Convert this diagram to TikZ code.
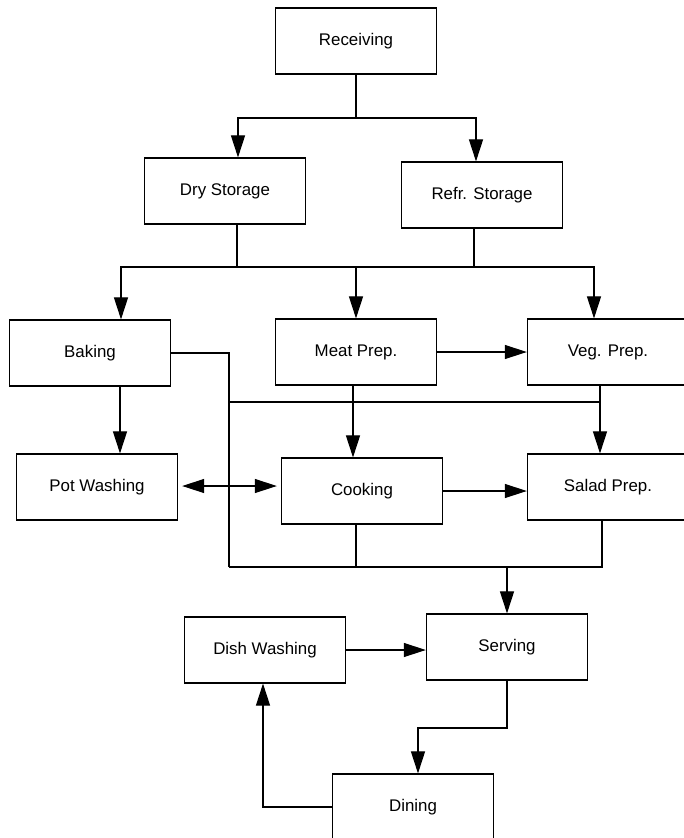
\documentclass[tikz,border=0pt]{standalone}
\usepackage{fontspec}
\setmainfont{Liberation Sans}
\usetikzlibrary{arrows.meta}

\begin{document}
\begin{tikzpicture}[x=0.025cm, y=-0.025cm,
    stage/.style={draw, line width=0.8pt, minimum width=4.03cm, minimum height=1.65cm,
                  inner sep=0pt, font=\fontsize{12}{14}\selectfont},
    link/.style={line width=0.8pt},
    flow/.style={line width=0.8pt, -{Triangle[length=5.5mm, width=3.5mm]}},
    twoway/.style={line width=0.8pt, {Triangle[length=5.5mm, width=3.5mm]}-{Triangle[length=5.5mm, width=3.5mm]}}]
    % Rozměry obrázku
    \useasboundingbox (0,0) rectangle (684,838);
    \clip (0,0) rectangle (684,838);

    % Provozy
    \node[stage] (recv)  at (356,41)  {Receiving};
    \node[stage] (dry)   at (225,191) {Dry Storage};
    \node[stage] (refr)  at (482,195) {Refr. Storage};
    \node[stage] (bake)  at (90,353)  {Baking};
    \node[stage] (meat)  at (356,352) {Meat Prep.};
    \node[stage] (veg)   at (608,352) {Veg. Prep.};
    \node[stage] (pot)   at (97,487)  {Pot Washing};
    \node[stage] (cook)  at (362,491) {Cooking};
    \node[stage] (salad) at (608,487) {Salad Prep.};
    \node[stage] (dish)  at (265,650) {Dish Washing};
    \node[stage] (serv)  at (507,647) {Serving};
    \node[stage] (dine)  at (413,807) {Dining};

    % Uzly vedení
    \coordinate (r1) at (356,118);
    \coordinate (s1) at (356,267);
    \coordinate (c1) at (229,402);
    \coordinate (v1) at (600,402);
    \coordinate (c2) at (229,567);
    \coordinate (s2) at (507,567);
    \coordinate (d1) at (418,728);

    % Příjem do skladů
    \draw[link] (recv.south) -- (r1);
    \draw[flow] (r1) -| ([shift={(13,0)}]dry.north);
    \draw[flow] (r1) -| ([shift={(-6,0)}]refr.north);

    % Sklady do přípraven
    \draw[link] ([shift={(12,0)}]dry.south) |- (s1);
    \draw[link] ([shift={(-8,0)}]refr.south) |- (s1);
    \draw[flow] (s1) -| ([shift={(31,0)}]bake.north);
    \draw[flow] (s1) -- (meat.north);
    \draw[flow] (s1) -| ([shift={(-14,0)}]veg.north);
    \draw[flow] (meat.east) -- (veg.west);

    % Přípravny do kuchyně
    \draw[flow] ([shift={(30,0)}]bake.south) -- ([shift={(23,0)}]pot.north);
    \draw[link] (bake.east) -| (c2);
    \draw[link] (c1) -- (v1);
    \draw[flow] ([shift={(-8,0)}]veg.south) -- ([shift={(-8,0)}]salad.north);
    \draw[flow] ([shift={(-3,0)}]meat.south) -- ([shift={(-9,0)}]cook.north);
    \draw[twoway] ([shift={(4,-1)}]pot.east) -- ([shift={(-4,-5)}]cook.west);
    \draw[flow] (cook.east) -- (salad.west |- cook.east);

    % Výdej
    \draw[link] ([shift={(-6,0)}]cook.south) |- (c2);
    \draw[link] ([shift={(-6,0)}]salad.south) |- (c2);
    \draw[flow] (s2) -- (serv.north);
    \draw[flow] (dish.east) -- (serv.west |- dish.east);
    \draw[flow] (serv.south) |- (d1) -- (d1 |- dine.north);
    \draw[flow] (dine.west) -| ([shift={(-2,0)}]dish.south);
\end{tikzpicture}
\end{document}
